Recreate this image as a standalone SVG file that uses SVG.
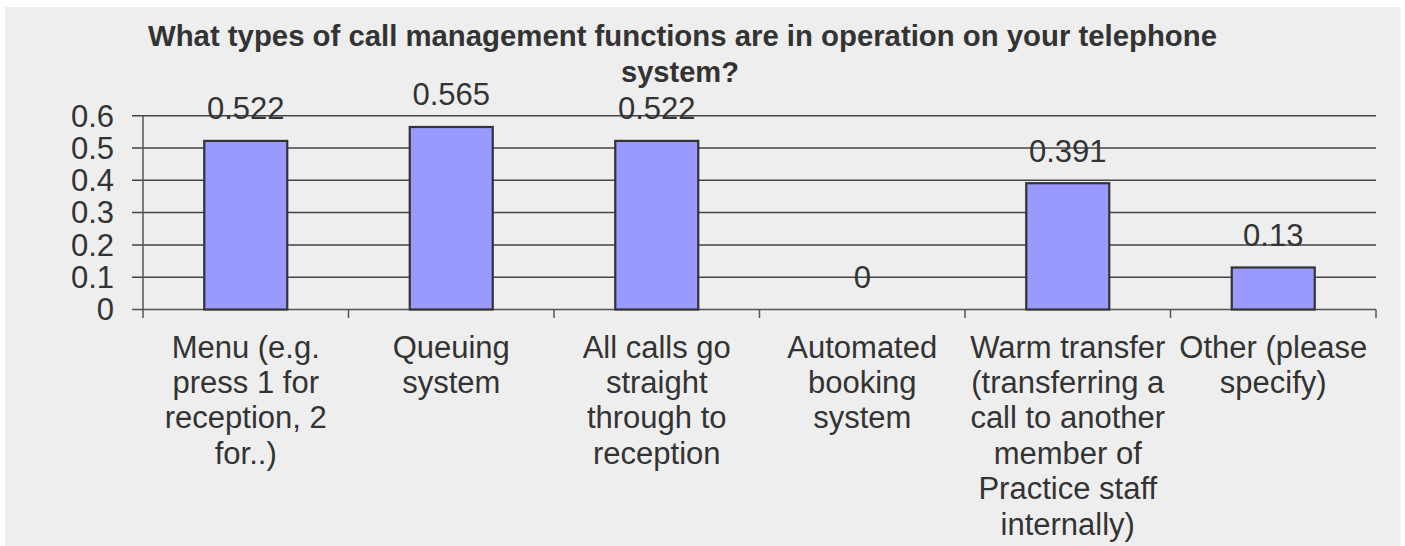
<svg xmlns="http://www.w3.org/2000/svg" width="1405" height="546" viewBox="0 0 1405 546">
<style>
.t{font-family:"Liberation Sans",Arial,sans-serif;font-size:31px;fill:#333;}
.c{text-anchor:middle;}
.r{text-anchor:end;}
.title{font-family:"Liberation Sans",Arial,sans-serif;font-size:30px;font-weight:bold;fill:#333;text-anchor:middle;}
.grid{stroke:#444;stroke-width:1.5;fill:none;}
.axis{stroke:#555;stroke-width:1.5;fill:none;}
.bar{fill:#9999ff;stroke:#333;stroke-width:2.2;}
</style>
<rect x="0" y="0" width="1405" height="546" fill="#ffffff"/>
<rect x="5" y="7" width="1395.5" height="539" fill="#eeeeee"/>
<g id="title">
<text class="title" x="682.5" y="45.5" textLength="1069" lengthAdjust="spacingAndGlyphs">What types of call management functions are in operation on your telephone</text>
<text class="title" x="680" y="81.5" textLength="118" lengthAdjust="spacingAndGlyphs">system?</text>
</g>
<g id="gridlines">
<path class="grid" d="M132 115.7H1376M132 148H1376M132 180.3H1376M132 212.6H1376M132 244.9H1376M132 277.2H1376"/>
</g>
<g id="axes">
<path class="axis" d="M143 115.7V318M132 309.5H1376M348.5 309.5V318M554 309.5V318M759.5 309.5V318M965 309.5V318M1170.5 309.5V318M1376 309.5V318"/>
</g>
<g id="y-labels">
<text class="t r" x="114" y="126.5">0.6</text>
<text class="t r" x="114" y="158.8">0.5</text>
<text class="t r" x="114" y="191.1">0.4</text>
<text class="t r" x="114" y="223.4">0.3</text>
<text class="t r" x="114" y="255.7">0.2</text>
<text class="t r" x="114" y="288">0.1</text>
<text class="t r" x="114" y="320.3">0</text>
</g>
<g id="bar-menu">
<rect class="bar" x="204.25" y="140.9" width="83" height="168.6"/>
<text class="t c" x="245.75" y="119">0.522</text>
<text class="t c" x="245.75" y="357.5">Menu (e.g.</text>
<text class="t c" x="245.75" y="392.9">press 1 for</text>
<text class="t c" x="245.75" y="428.3">reception, 2</text>
<text class="t c" x="245.75" y="463.7">for..)</text>
</g>
<g id="bar-queuing">
<rect class="bar" x="409.75" y="127" width="83" height="182.5"/>
<text class="t c" x="451.25" y="105">0.565</text>
<text class="t c" x="451.25" y="357.5">Queuing</text>
<text class="t c" x="451.25" y="392.9">system</text>
</g>
<g id="bar-allcalls">
<rect class="bar" x="615.25" y="140.9" width="83" height="168.6"/>
<text class="t c" x="656.75" y="119">0.522</text>
<text class="t c" x="656.75" y="357.5">All calls go</text>
<text class="t c" x="656.75" y="392.9">straight</text>
<text class="t c" x="656.75" y="428.3">through to</text>
<text class="t c" x="656.75" y="463.7">reception</text>
</g>
<g id="bar-automated">
<text class="t c" x="862.25" y="288">0</text>
<text class="t c" x="862.25" y="357.5">Automated</text>
<text class="t c" x="862.25" y="392.9">booking</text>
<text class="t c" x="862.25" y="428.3">system</text>
</g>
<g id="bar-warm">
<rect class="bar" x="1026.25" y="183.2" width="83" height="126.3"/>
<text class="t c" x="1067.75" y="161.5">0.391</text>
<text class="t c" x="1067.75" y="357.5">Warm transfer</text>
<text class="t c" x="1067.75" y="392.9">(transferring a</text>
<text class="t c" x="1067.75" y="428.3">call to another</text>
<text class="t c" x="1067.75" y="463.7">member of</text>
<text class="t c" x="1067.75" y="499.1">Practice staff</text>
<text class="t c" x="1067.75" y="534.5">internally)</text>
</g>
<g id="bar-other">
<rect class="bar" x="1231.75" y="267.5" width="83" height="42"/>
<text class="t c" x="1273.25" y="246">0.13</text>
<text class="t c" x="1273.25" y="357.5">Other (please</text>
<text class="t c" x="1273.25" y="392.9">specify)</text>
</g>
</svg>
